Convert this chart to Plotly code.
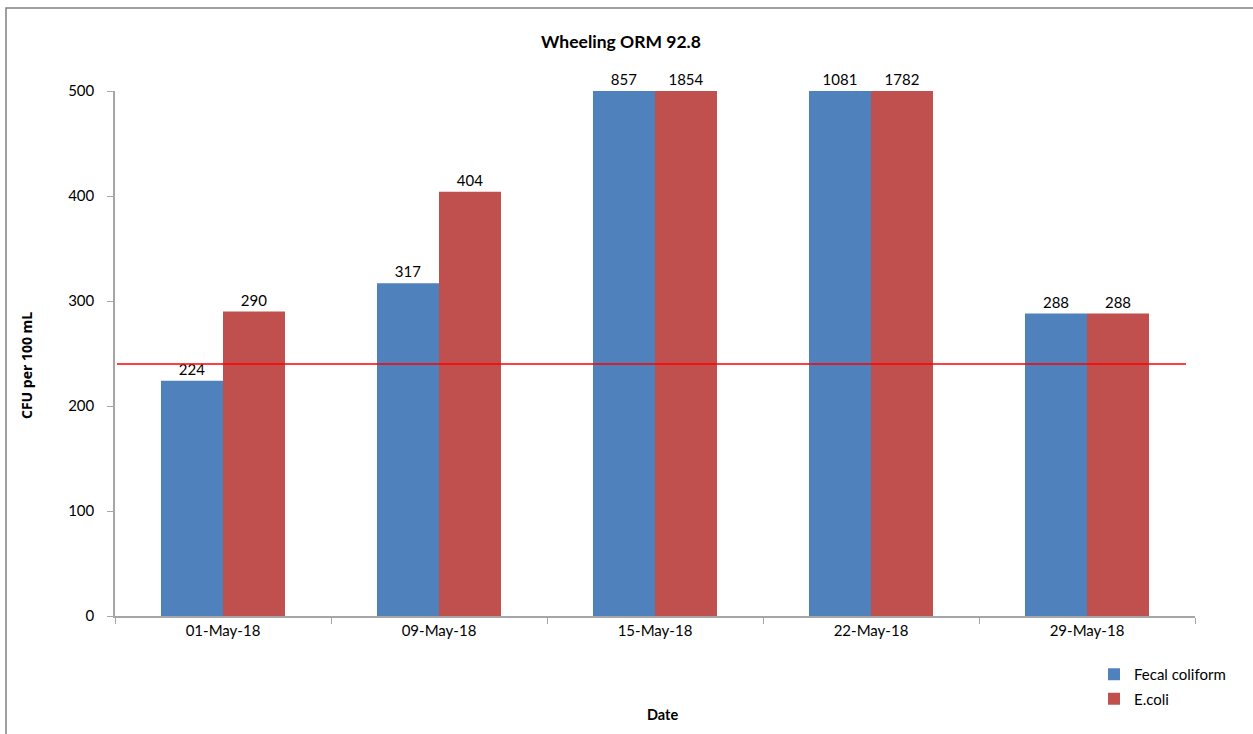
import plotly.graph_objects as go

dates = ["01-May-18", "09-May-18", "15-May-18", "22-May-18", "29-May-18"]
fecal_plotted = [224, 317, 500, 500, 288]
ecoli_plotted = [290, 404, 500, 500, 288]
fecal_labels = ["224", "317", "857", "1081", "288"]
ecoli_labels = ["290", "404", "1854", "1782", "288"]
threshold = 240
y_ticks = [0, 100, 200, 300, 400, 500]

W, H = 1253, 734
L, R, T, B = 115, 58, 91, 118
pw, ph = W - L - R, H - T - B

FONT = "Lato, 'Open Sans', sans-serif"
AX = "#A6A6A6"

fig = go.Figure()
fig.add_trace(go.Bar(
    x=dates, y=fecal_plotted, name="Fecal coliform", legendgroup="a",
    marker=dict(color="#4F81BD", line=dict(width=0)),
    text=fecal_labels, textposition="outside", cliponaxis=False,
    textfont=dict(size=15, color="#000000", family=FONT),
))
fig.add_trace(go.Bar(
    x=dates, y=ecoli_plotted, name="E.coli", legendgroup="b",
    marker=dict(color="#C0504D", line=dict(width=0)),
    text=ecoli_labels, textposition="outside", cliponaxis=False,
    textfont=dict(size=15, color="#000000", family=FONT),
))

fig.add_shape(type="line", xref="paper", yref="y",
              x0=2 / pw, x1=(1186 - L) / pw, y0=threshold, y1=threshold,
              line=dict(color="#FF0000", width=1.3))

# outer chart frame
fig.add_shape(type="rect", xref="paper", yref="paper",
              x0=(6 - L) / pw, x1=(W + 10 - L) / pw,
              y0=-(H + 10 - (T + ph)) / ph, y1=(T + ph - 8) / ph,
              line=dict(color="#808080", width=1.5), fillcolor="rgba(0,0,0,0)", layer="below")

fig.add_annotation(text="<b>CFU per 100 mL</b>", textangle=-90,
                   xref="paper", yref="paper", x=(26 - L) / pw, y=(T + ph - 366) / ph,
                   xanchor="center", yanchor="middle",
                   showarrow=False, font=dict(size=14, color="#000000", family="'Open Sans', sans-serif"))
fig.add_annotation(text="<b>Date</b>", xref="paper", yref="paper",
                   x=(662 - L) / pw, y=-(714 - (T + ph)) / ph,
                   xanchor="center", yanchor="middle",
                   showarrow=False, font=dict(size=14.5, color="#000000", family=FONT))

fig.update_layout(
    width=W, height=H,
    margin=dict(l=L, r=R, t=T, b=B),
    paper_bgcolor="white", plot_bgcolor="white",
    barmode="group", bargap=0.426, bargroupgap=0,
    title=dict(text="<b>Wheeling ORM 92.8</b>", x=621 / W, xref="container", xanchor="center",
               y=1 - 42 / H, yref="container", yanchor="middle",
               font=dict(size=17.5, color="#000000", family=FONT)),
    font=dict(family=FONT, size=15, color="#000000"),
    showlegend=True,
    legend=dict(x=(1094 - L) / pw, y=-(658 - (T + ph)) / ph, xanchor="left", yanchor="top",
                font=dict(size=15, color="#000000", family=FONT),
                bgcolor="rgba(0,0,0,0)", tracegroupgap=2, itemwidth=30),
    xaxis=dict(showline=True, linecolor=AX, linewidth=1.5, ticks="outside", tickson="boundaries",
               ticklen=6, tickcolor=AX, showgrid=False, tickfont=dict(size=15, family=FONT)),
    yaxis=dict(range=[0, 500], tickvals=y_ticks, showline=True, linecolor=AX, linewidth=1.5,
               ticks="outside", ticklen=6, tickcolor=AX, showgrid=False, zeroline=False,
               tickfont=dict(size=15, family=FONT), ticklabelstandoff=10),
)

fig.write_html("out.html", config={"displayModeBar": False},
               post_script="document.body.style.margin='0';document.body.style.overflow='hidden';")
